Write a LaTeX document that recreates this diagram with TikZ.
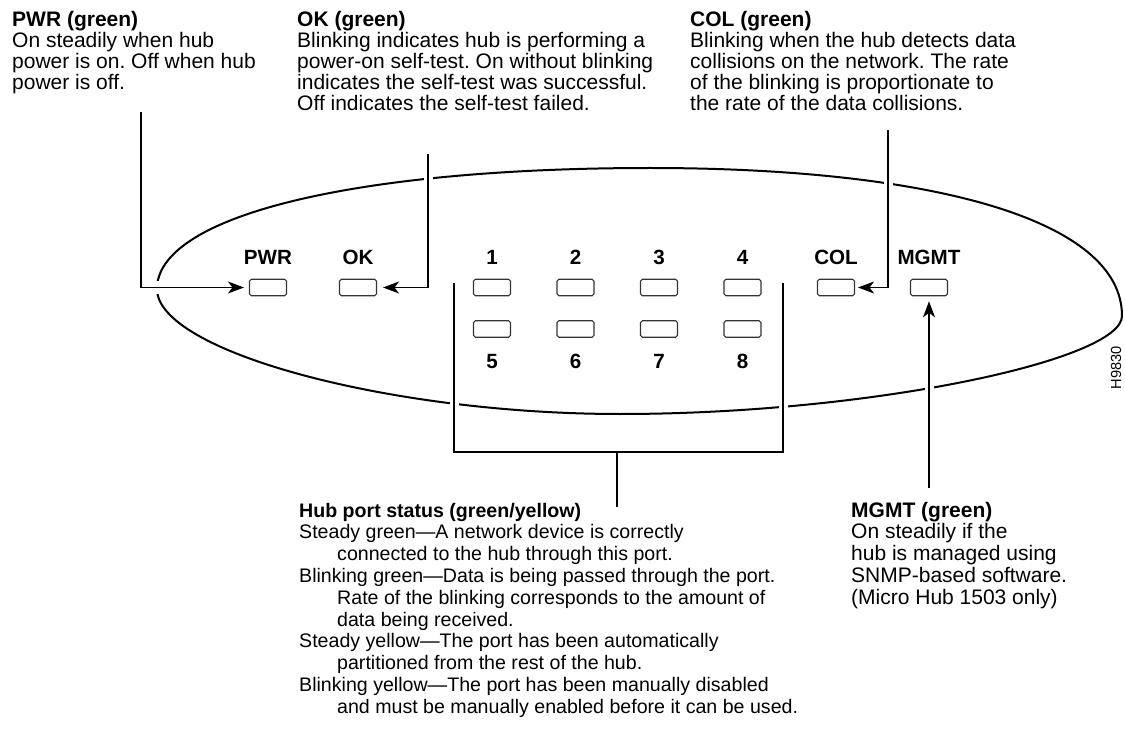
\documentclass[tikz,border=0pt]{standalone}
\usepackage{fontspec}
\setmainfont{Liberation Sans}
\usetikzlibrary{arrows.meta}
\frenchspacing
\begin{document}
\begin{tikzpicture}[x=1pt,y=-1pt,
  txt/.style={anchor=base west, inner sep=0pt, font=\fontsize{21}{21}\selectfont\frenchspacing},
  hdr/.style={anchor=base west, inner sep=0pt, font=\fontsize{21}{21}\selectfont\bfseries},
  btxt/.style={anchor=base west, inner sep=0pt, font=\fontsize{19.6}{19.6}\selectfont\frenchspacing},
  bhdr/.style={anchor=base west, inner sep=0pt, font=\fontsize{19.6}{19.6}\selectfont\bfseries},
  led/.style={draw=black!80, line width=1.1pt, rounded corners=1.8pt, minimum width=37pt, minimum height=16.5pt, inner sep=0pt},
  lbl/.style={anchor=base, inner sep=0pt, font=\fontsize{20.6}{20.6}\selectfont\bfseries},
  conn/.style={draw=black, line width=1.3pt},
  arr/.style={conn, -{Stealth[length=16pt,width=12pt,inset=4.5pt]}},
  gapbox/.style={fill=white, draw=none},
  hub/.style={draw=black, line width=2pt},
]
\useasboundingbox (0,0) rectangle (1125,746);

% hub outline
\draw[hub] (157,289) .. controls (157,216) and (354,168) .. (650,168)
  .. controls (933,168) and (1122,220) .. (1122,316)
  .. controls (1122,360) and (871,414) .. (620,414)
  .. controls (388,414) and (157,351) .. (157,289) -- cycle;

% gaps in outline where connectors cross
\fill[gapbox] (151,281) rectangle (164,294);
\fill[gapbox] (423.5,172) rectangle (432.5,190);
\fill[gapbox] (883.5,175) rectangle (892.5,195);
\fill[gapbox] (449.5,394) rectangle (458.5,413);
\fill[gapbox] (778.5,400) rectangle (787.5,419);
\fill[gapbox] (924.5,381) rectangle (933.5,401);

% LEDs
\node[led] (pwrled) at (268,287.5) {};
\node[led] (okled) at (358,287.5) {};
\node[led] (p1) at (492,287.5) {};
\node[led] (p2) at (575.5,287.5) {};
\node[led] (p3) at (659,287.5) {};
\node[led] (p4) at (742.5,287.5) {};
\node[led] (p5) at (492,329) {};
\node[led] (p6) at (575.5,329) {};
\node[led] (p7) at (659,329) {};
\node[led] (p8) at (742.5,329) {};
\node[led] (colled) at (836,287.5) {};
\node[led] (mgmtled) at (929,287.5) {};

% LED labels
\node[lbl] (pwrlbl) at (268,265) {PWR};
\node[lbl] (oklbl) at (358,265) {OK};
\node[lbl] (l1) at (492,265) {1};
\node[lbl] (l2) at (575.5,265) {2};
\node[lbl] (l3) at (659,265) {3};
\node[lbl] (l4) at (742.5,265) {4};
\node[lbl] (collbl) at (836,265) {COL};
\node[lbl] (mgmtlbl) at (929,265) {MGMT};
\node[lbl] (l5) at (492,368) {5};
\node[lbl] (l6) at (575.5,368) {6};
\node[lbl] (l7) at (659,368) {7};
\node[lbl] (l8) at (742.5,368) {8};

% PWR text
\node[hdr] (pwrh) at (12,26.7) {PWR (green)};
\node[txt] (pwr1) at (12,47.7) {On steadily when hub};
\node[txt] (pwr2) at (12,68.7) {power is on. Off when hub};
\node[txt] (pwr3) at (12,89.7) {power is off.};

% OK text
\node[hdr] (okh) at (297,26.7) {OK (green)};
\node[txt] (ok1) at (297,47.7) {Blinking indicates hub is performing a};
\node[txt] (ok2) at (297,68.7) {power-on self-test. On without blinking};
\node[txt] (ok3) at (297,89.7) {indicates the self-test was successful.};
\node[txt] (ok4) at (297,110.7) {Off indicates the self-test failed.};

% COL text
\node[hdr] (colh) at (690,26.7) {COL (green)};
\node[txt] (col1) at (690,47.7) {Blinking when the hub detects data};
\node[txt] (col2) at (690,68.7) {collisions on the network. The rate};
\node[txt] (col3) at (690,89.7) {of the blinking is proportionate to};
\node[txt] (col4) at (690,110.7) {the rate of the data collisions.};

% MGMT text
\node[hdr] (mgmth) at (851,517) {MGMT (green)};
\node[txt] (mgmt1) at (851,538.8) {On steadily if the};
\node[txt] (mgmt2) at (851,560.6) {hub is managed using};
\node[txt] (mgmt3) at (851,582.4) {SNMP-based software.};
\node[txt] (mgmt4) at (851,604.2) {(Micro Hub 1503 only)};

% Hub port status text
\node[bhdr] (b0) at (299,517) {Hub port status (green/yellow)};
\node[btxt] (b1) at (299,538.8) {Steady green—A network device is correctly};
\node[btxt] (b2) at (337,560.6) {connected to the hub through this port.};
\node[btxt] (b3) at (299,582.4) {Blinking green—Data is being passed through the port.};
\node[btxt] (b4) at (337,604.2) {Rate of the blinking corresponds to the amount of};
\node[btxt] (b5) at (337,626) {data being received.};
\node[btxt] (b6) at (299,647.8) {Steady yellow—The port has been automatically};
\node[btxt] (b7) at (337,669.6) {partitioned from the rest of the hub.};
\node[btxt] (b8) at (299,691.4) {Blinking yellow—The port has been manually disabled};
\node[btxt] (b9) at (337,713.2) {and must be manually enabled before it can be used.};

% figure id
\node[rotate=90, inner sep=0pt, font=\fontsize{14.6}{14.6}\selectfont] (figid) at (1116,368) {H9830};

% connectors
\coordinate (pwrtop) at (141,112);
\coordinate (oktop) at (428,154);
\coordinate (coltop) at (888,130);
\coordinate (mgmtbot) at (929,488);
\draw[arr, shorten >=5pt] (pwrtop) |- (pwrled.west);
\draw[arr, shorten >=6pt] (oktop) |- (okled.east);
\draw[arr, shorten >=3pt] (coltop) |- (colled.east);
\draw[arr, shorten >=5pt] (mgmtbot) -- (mgmtled.south);

% port bracket
\coordinate (brl) at (454,283);
\coordinate (brr) at (783,283);
\coordinate (brmid) at (617,452);
\coordinate (stem) at (617,507);
\draw[conn] (brl) -- (brl |- brmid) -- (brr |- brmid) -- (brr);
\draw[conn] (brmid) -- (stem);
\end{tikzpicture}
\end{document}
